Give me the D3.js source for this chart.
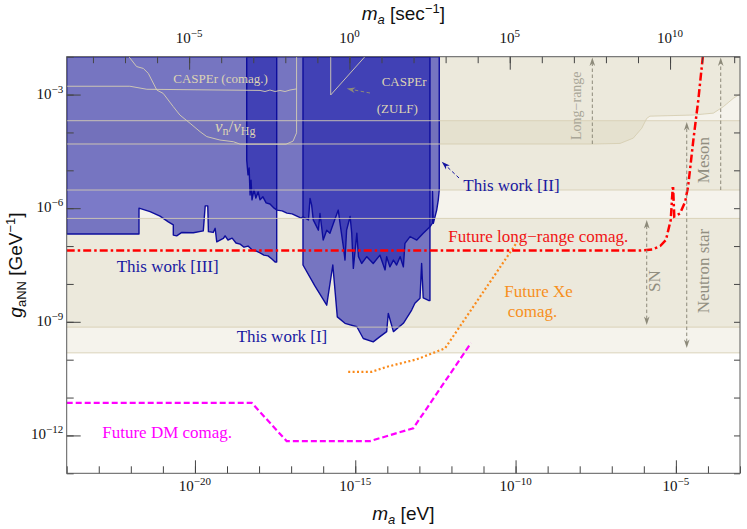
<!DOCTYPE html>
<html><head><meta charset="utf-8">
<script src="https://cdn.jsdelivr.net/npm/d3@7"></script>
<style>
body{margin:0;background:#fff;}
svg{display:block;}
text{font-family:"Liberation Serif","Times New Roman",serif;}
.sans{font-family:"Liberation Sans",Arial,sans-serif;}
</style>
</head><body>
<svg id="chart" width="747" height="529"></svg>
<script>
// ---------- DATA (log10 m_a [eV], log10 g_aNN [GeV^-1]) ----------
const xDomainExp = [-24, -3];
const yDomainExp = [-13, -2];
const xMajorExp = [-20, -15, -10, -5];
const yMajorExp = [-3, -6, -9, -12];
const topMajorExp = [-5, 0, 5, 10];
const EV_TO_SEC = 1.519e15;

const work3 = [[-24,-6.68],[-21.745,-6.68],[-21.745,-6.00],[-21.40,-6.09],[-21.09,-6.21],[-20.83,-6.36],[-20.675,-6.44],[-20.675,-6.71],[-20.57,-6.73],[-20.41,-6.64],[-20.05,-6.65],[-19.74,-6.60],[-19.68,-5.94],[-19.60,-5.94],[-19.58,-6.62],[-19.43,-6.64],[-19.37,-6.53],[-19.32,-6.89],[-19.115,-6.80],[-19.06,-6.73],[-18.97,-6.84],[-18.84,-6.79],[-18.72,-6.92],[-18.59,-6.95],[-18.47,-7.03],[-18.345,-7.00],[-18.22,-7.10],[-18.10,-7.13],[-17.97,-7.18],[-17.85,-7.24],[-17.72,-7.26],[-17.60,-7.34],[-17.50,-7.42],[-17.45,-7.42],[-17.45,-2],[-24,-2]];

const work2 = [[-18.385,-2],[-18.385,-4.73],[-18.345,-5.12],[-18.31,-4.94],[-18.28,-5.65],[-18.25,-5.26],[-18.22,-5.78],[-18.16,-5.52],[-18.10,-5.73],[-18.03,-5.57],[-17.97,-5.78],[-17.88,-5.70],[-17.78,-5.86],[-17.66,-5.89],[-17.53,-6.00],[-17.44,-6.05],[-17.28,-6.07],[-17.13,-6.13],[-16.97,-6.15],[-16.82,-6.21],[-16.69,-6.26],[-16.63,-6.23],[-16.46,-6.31],[-16.41,-5.74],[-16.36,-5.92],[-16.31,-6.31],[-16.15,-6.58],[-16.10,-6.14],[-16.00,-6.84],[-15.89,-6.58],[-15.79,-6.66],[-15.68,-6.40],[-15.53,-6.05],[-15.475,-6.40],[-15.37,-7.02],[-15.32,-7.37],[-15.27,-6.58],[-15.16,-6.22],[-15.11,-6.66],[-15.06,-7.59],[-14.95,-6.66],[-14.90,-7.28],[-14.80,-7.46],[-14.64,-7.28],[-14.44,-7.46],[-14.23,-7.24],[-14.07,-7.63],[-14.02,-7.28],[-13.92,-7.55],[-13.81,-7.37],[-13.71,-7.50],[-13.60,-7.28],[-13.50,-7.55],[-13.45,-6.93],[-13.29,-6.75],[-13.08,-6.84],[-12.88,-6.66],[-12.67,-6.49],[-12.60,-6.40],[-12.59,-5.56],[-12.565,-6.40],[-12.46,-6.05],[-12.41,-5.78],[-12.38,-5.52],[-12.38,-2]];

const work1 = [[-16.63,-2],[-16.63,-7.50],[-16.255,-8.06],[-15.89,-8.56],[-15.70,-7.50],[-15.56,-8.87],[-15.32,-9.04],[-14.95,-9.13],[-14.75,-9.44],[-14.44,-9.53],[-14.23,-9.39],[-14.02,-9.26],[-13.97,-8.78],[-13.81,-9.26],[-13.50,-9.04],[-13.24,-8.69],[-13.14,-8.51],[-12.98,-8.38],[-12.93,-7.46],[-12.88,-8.37],[-12.70,-8.44],[-12.67,-8.44],[-12.67,-2]];

const futureLongRange = [[-24,-7.12],[-6.12,-7.12],[-5.74,-7.09],[-5.49,-7.00],[-5.31,-6.84],[-5.16,-6.31],[-5.10,-5.475],[-5.085,-5.475],[-5.05,-6.22],[-4.87,-6.14],[-4.71,-5.83],[-4.62,-5.43],[-4.56,-4.99],[-4.455,-4.20],[-4.30,-3.14],[-4.16,-2]];
const futureXe = [[-15.22,-10.32],[-14.49,-10.32],[-14.02,-10.19],[-13.08,-9.99],[-12.20,-9.70],[-9.94,-6.88]];
const futureDM = [[-24,-11.14],[-18.23,-11.14],[-17.14,-12.15],[-14.54,-12.15],[-13.19,-11.81],[-11.39,-9.56]];

const casperComag = [[-24,-2.78],[-22.03,-2.78],[-21.50,-2.86],[-17.97,-2.89],[-17.815,-2.92],[-17.66,-2.88],[-17.50,-2.92],[-17.35,-2.89],[-17.19,-2.92],[-17.035,-2.88],[-16.83,-2.85]];
const nuRatio = [[-22.06,-2],[-21.82,-2.26],[-21.61,-2.31],[-21.455,-2.44],[-21.19,-2.88],[-20.99,-2.97],[-20.675,-3.32],[-20.47,-3.54],[-20.15,-3.76],[-19.84,-3.98],[-19.63,-4.11],[-19.22,-4.20],[-18.80,-4.245],[-18.59,-4.31],[-17.16,-4.31],[-16.94,-4.23],[-16.83,-4.01],[-16.83,-2]];
const casperZulf = [[-15.765,-2],[-15.765,-3.01],[-14.70,-2]];

const longRangeBound = [[-24,-4.305],[-7.575,-4.305],[-6.74,-4.29],[-6.33,-4.15],[-6.065,-3.89],[-5.91,-3.63],[-5.81,-3.57],[-4.455,-3.54],[-3.83,-3.49],[-3.52,-3.32],[-3.21,-3.10],[-3.0,-2.985]];
const neutronStarBand = [-9.82, -3.69];
const mesonBand = [-5.52, -2];
const snBand = [-9.14, -6.27];

// ---------- SETUP ----------
const svg = d3.select("#chart");
const L = 66.7, R = 740, T = 56.7, B = 473.3;
const x = d3.scaleLog().domain(xDomainExp.map(e => Math.pow(10, e))).range([L, R]);
const y = d3.scaleLog().domain(yDomainExp.map(e => Math.pow(10, e))).range([B, T]);
const xTop = d3.scaleLog().domain(xDomainExp.map(e => Math.pow(10, e) * EV_TO_SEC)).range([L, R]);
const px = e => x(Math.pow(10, e));
const py = e => y(Math.pow(10, e));
const line = d3.line().x(d => px(d[0])).y(d => py(d[1]));

svg.append("defs").append("clipPath").attr("id", "clip")
  .append("rect").attr("x", L).attr("y", T).attr("width", R - L).attr("height", B - T);
const plot = svg.append("g").attr("clip-path", "url(#clip)");

// ---------- BEIGE BANDS ----------
const beige = "rgb(200,188,150)", beigeOp = 0.18;
function hband(lo, hi) {
  plot.append("rect").attr("x", L).attr("width", R - L)
    .attr("y", py(hi)).attr("height", py(lo) - py(hi))
    .attr("fill", beige).attr("fill-opacity", beigeOp);
}
hband(neutronStarBand[0], neutronStarBand[1]);
hband(mesonBand[0], mesonBand[1]);
hband(snBand[0], snBand[1]);
plot.append("path").attr("d", line(longRangeBound.concat([[-3, -2], [-24, -2]])) + "Z")
  .attr("fill", beige).attr("fill-opacity", beigeOp);

// ---------- BLUE REGIONS ----------
const blue = "rgb(22,22,172)", blueOp = 0.55;
[work3, work2, work1].forEach(r => {
  plot.append("path").attr("d", line(r) + "Z").attr("fill", blue).attr("fill-opacity", blueOp);
});
[work3, work2, work1].forEach(r => {
  plot.append("path").attr("d", line(r) + "Z").attr("fill", "none")
    .attr("stroke", "#0d0d9c").attr("stroke-width", 1.4).attr("stroke-linejoin", "round");
});

// ---------- BEIGE BOUNDARY LINES ----------
const lineBeige = "rgb(214,206,178)";
[neutronStarBand[0], neutronStarBand[1], mesonBand[0], snBand[0], snBand[1]].forEach(v => {
  plot.append("line").attr("x1", L).attr("x2", R).attr("y1", py(v)).attr("y2", py(v))
    .attr("stroke", lineBeige).attr("stroke-width", 1).attr("stroke-opacity", 0.85);
});
[longRangeBound, casperComag, nuRatio, casperZulf].forEach(c => {
  plot.append("path").attr("d", line(c)).attr("fill", "none")
    .attr("stroke", lineBeige).attr("stroke-width", 1).attr("stroke-opacity", 0.9);
});

// ---------- FUTURE PROJECTIONS ----------
plot.append("path").attr("d", line(futureXe)).attr("fill", "none")
  .attr("stroke", "#fa8a1a").attr("stroke-width", 2.2).attr("stroke-dasharray", "2,2.4");
plot.append("path").attr("d", line(futureDM)).attr("fill", "none")
  .attr("stroke", "#ff00ff").attr("stroke-width", 2.2).attr("stroke-dasharray", "6,3");
plot.append("path").attr("d", line(futureLongRange)).attr("fill", "none")
  .attr("stroke", "#ff0000").attr("stroke-width", 2.5).attr("stroke-dasharray", "8,3,2.5,3");

// ---------- ARROWS ----------
function arrow(from, to, color, both) {
  const p0 = [px(from[0]), py(from[1])], p1 = [px(to[0]), py(to[1])];
  const dx = p1[0] - p0[0], dy = p1[1] - p0[1], len = Math.hypot(dx, dy);
  const u = [dx / len, dy / len];
  const HL = 8.5, HW = 2.8;
  const head = (tip, dir) => {
    const back = [tip[0] - dir[0] * HL, tip[1] - dir[1] * HL];
    const notch = [tip[0] - dir[0] * HL * 0.72, tip[1] - dir[1] * HL * 0.72];
    const nn = [-dir[1], dir[0]];
    plot.append("path").attr("d",
      `M${tip}L${back[0] + nn[0] * HW},${back[1] + nn[1] * HW}L${notch}L${back[0] - nn[0] * HW},${back[1] - nn[1] * HW}Z`)
      .attr("fill", color);
  };
  const s = both ? [p0[0] + u[0] * HL * 0.7, p0[1] + u[1] * HL * 0.7] : p0;
  const e = [p1[0] - u[0] * HL * 0.7, p1[1] - u[1] * HL * 0.7];
  plot.append("line").attr("x1", s[0]).attr("y1", s[1]).attr("x2", e[0]).attr("y2", e[1])
    .attr("stroke", color).attr("stroke-width", 1).attr("stroke-dasharray", "3.5,2.5");
  head(p1, u);
  if (both) head(p0, [-u[0], -u[1]]);
}
const gray = "#8d8a7a";
arrow([-7.606, -4.305], [-7.606, -2.02], gray, false);      // Long-range
arrow([-3.601, -5.52], [-3.601, -2.02], gray, false);       // Meson
arrow([-5.909, -9.085], [-5.909, -6.312], gray, true);      // SN
arrow([-4.661, -9.692], [-4.661, -3.724], gray, true);      // Neutron star
arrow([-14.54, -2.959], [-15.266, -2.84], gray, false);     // CASPEr ZULF
arrow([-11.763, -5.203], [-12.303, -4.773], "#1515a0", false); // This work [II]

// ---------- LABELS ----------
function label(txt, at, color, size, anchor, rot) {
  const t = svg.append("text").attr("fill", color).attr("font-size", size)
    .attr("text-anchor", anchor || "start");
  if (rot) t.attr("transform", `translate(${px(at[0])},${py(at[1])}) rotate(-90)`);
  else t.attr("x", px(at[0])).attr("y", py(at[1]));
  t.text(txt);
  return t;
}
const capCol = "#ddd4b4";
label("CASPEr (comag.)", [-20.675, -2.687], capCol, 13);
label("CASPEr", [-14.175, -2.774], capCol, 13);
label("(ZULF)", [-14.33, -3.495], capCol, 13);
{
  const t = svg.append("text").attr("x", px(-19.374)).attr("y", py(-3.98)).attr("fill", capCol).attr("font-size", 17);
  t.append("tspan").attr("font-style", "italic").text("ν");
  t.append("tspan").attr("font-size", 12).attr("dy", 3).text("n");
  t.append("tspan").attr("dy", -3).text("/");
  t.append("tspan").attr("font-style", "italic").text("ν");
  t.append("tspan").attr("font-size", 12).attr("dy", 3).text("Hg");
}
const workCol = "#1818a0";
label("This work [II]", [-11.63, -5.538], workCol, 17);
label("This work [III]", [-22.44, -7.677], workCol, 17);
label("This work [I]", [-18.70, -9.526], workCol, 17);
label("Future long−range comag.", [-6.483, -6.885], "#f01414", 17, "end");
label("Future Xe", [-10.35, -8.337], "#f7901e", 17);
label("comag.", [-10.245, -8.866], "#f7901e", 17);
label("Future DM comag.", [-22.89, -12.077], "#ff00ff", 17);
label("Long−range", [-7.958, -3.294], "#a9a697", 14, "middle", true);
label("Meson", [-3.966, -4.728], "#918e80", 17, "middle", true);
label("SN", [-5.494, -7.923], "#918e80", 17, "middle", true);
label("Neutron star", [-3.966, -7.659], "#918e80", 17, "middle", true);

// ---------- AXES ----------
const decadesX = d3.range(xDomainExp[0], xDomainExp[1] + 1).map(e => Math.pow(10, e));
const decadesY = d3.range(yDomainExp[0], yDomainExp[1] + 1).map(e => Math.pow(10, e));
const decadesTop = d3.range(-8, 13).map(e => Math.pow(10, e));
function styleAxis(g) {
  g.select(".domain").remove();
  g.selectAll(".tick line").attr("stroke", "#444").attr("stroke-width", 1);
  g.selectAll(".tick text").remove();
}
const ax = svg.append("g");
ax.append("g").attr("transform", `translate(0,${B})`).call(d3.axisTop(x).tickValues(decadesX).tickSize(7).tickFormat("")).call(styleAxis);
ax.append("g").attr("transform", `translate(0,${B})`).call(d3.axisTop(x).tickValues(xMajorExp.map(e => Math.pow(10, e))).tickSize(13).tickFormat("")).call(styleAxis);
ax.append("g").attr("transform", `translate(0,${T})`).call(d3.axisBottom(xTop).tickValues(decadesTop).tickSize(6.5).tickFormat("")).call(styleAxis);
ax.append("g").attr("transform", `translate(0,${T})`).call(d3.axisBottom(xTop).tickValues(topMajorExp.map(e => Math.pow(10, e))).tickSize(13).tickFormat("")).call(styleAxis);
ax.append("g").attr("transform", `translate(${L},0)`).call(d3.axisRight(y).tickValues(decadesY).tickSize(7).tickFormat("")).call(styleAxis);
ax.append("g").attr("transform", `translate(${L},0)`).call(d3.axisRight(y).tickValues(yMajorExp.map(e => Math.pow(10, e))).tickSize(14).tickFormat("")).call(styleAxis);
ax.append("g").attr("transform", `translate(${R},0)`).call(d3.axisLeft(y).tickValues(decadesY).tickSize(6).tickFormat("")).call(styleAxis);

svg.append("rect").attr("x", L).attr("y", T).attr("width", R - L).attr("height", B - T)
  .attr("fill", "none").attr("stroke", "#5a5a5a").attr("stroke-width", 1);

function powLabel(xp, yp, exp, anchor) {
  const t = svg.append("text").attr("x", xp).attr("y", yp).attr("text-anchor", anchor)
    .attr("font-size", 15).attr("fill", "#111");
  t.append("tspan").text("10");
  t.append("tspan").attr("dy", -6).attr("font-size", 11).text(exp < 0 ? "−" + (-exp) : String(exp));
}
xMajorExp.forEach(e => powLabel(px(e), 490.7, e, "middle"));
topMajorExp.forEach(e => powLabel(xTop(Math.pow(10, e)), 42.7, e, "middle"));
yMajorExp.forEach(e => powLabel(L - 3.5, py(e) + 4, e, "end"));

// axis titles
{
  const t = svg.append("text").attr("class", "sans").attr("x", (L + R) / 2).attr("y", 520)
    .attr("text-anchor", "middle").attr("font-size", 19).attr("fill", "#111");
  t.append("tspan").attr("font-style", "italic").text("m");
  t.append("tspan").attr("font-style", "italic").attr("font-size", 13).attr("dy", 3.5).text("a");
  t.append("tspan").attr("dy", -3.5).text(" [eV]");
}
{
  const t = svg.append("text").attr("class", "sans").attr("x", (L + R) / 2).attr("y", 20)
    .attr("text-anchor", "middle").attr("font-size", 19).attr("fill", "#111");
  t.append("tspan").attr("font-style", "italic").text("m");
  t.append("tspan").attr("font-style", "italic").attr("font-size", 13).attr("dy", 4).text("a");
  t.append("tspan").attr("dy", -4).text(" [sec");
  t.append("tspan").attr("font-size", 13).attr("dy", -7).text("−1");
  t.append("tspan").attr("dy", 7).text("]");
}
{
  const t = svg.append("text").attr("class", "sans")
    .attr("transform", `translate(22,${(T + B) / 2}) rotate(-90)`)
    .attr("text-anchor", "middle").attr("font-size", 19).attr("fill", "#111");
  t.append("tspan").attr("font-style", "italic").text("g");
  t.append("tspan").attr("font-size", 13).attr("dy", 4).text("aNN");
  t.append("tspan").attr("dy", -4).text(" [GeV");
  t.append("tspan").attr("font-size", 13).attr("dy", -7).text("−1");
  t.append("tspan").attr("dy", 7).text("]");
}
</script>
</body></html>
